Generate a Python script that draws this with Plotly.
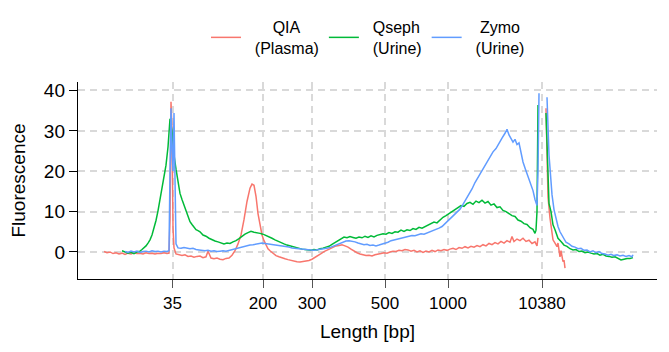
import plotly.graph_objects as go

# x positions are electrophoretic migration positions (arbitrary units), labelled by ladder sizes
tick_pos = [172.5, 263, 312, 385, 448, 542]
tick_labels = ["35", "200", "300", "500", "1000", "10380"]
y_ticks = [0, 10, 20, 30, 40]

qia_x = [104, 107, 110, 113, 116, 119, 122, 125, 128, 131, 134, 137, 140, 143, 146, 149, 152, 155, 158, 161,
         164, 167, 169, 170, 171, 172, 173, 174, 176, 179, 182, 185, 188, 191, 194, 197, 200, 203, 206, 208,
         211, 214, 217, 220, 223, 226, 229, 232, 235, 238, 241, 244, 247, 250, 252, 254, 256, 258, 260, 262,
         264, 266, 268, 270, 273, 276, 279, 282, 285, 288, 291, 294, 297, 300, 303, 306, 309, 312, 315, 318,
         321, 324, 327, 330, 333, 336, 339, 342, 345, 348, 351, 354, 357, 360, 363, 366, 369, 372, 375, 378,
         381, 384, 387, 390, 393, 396, 399, 402, 405, 408, 411, 414, 417, 420, 423, 426, 429, 432, 435, 438,
         441, 444, 447, 450, 453, 456, 459, 462, 465, 468, 471, 474, 477, 480, 483, 486, 489, 492, 495, 498,
         501, 504, 507, 510, 512, 514, 517, 520, 523, 526, 529, 532, 535, 537, 538, 542,
         546, 547, 548, 550, 552, 553, 555, 557, 558, 560, 561, 563, 564, 565]
qia_y = [0.1, -0.2, 0.0, -0.4, -0.2, -0.5, -0.3, -0.6, -0.3, -0.5, -0.2, -0.4, -0.3, -0.5, -0.2, -0.4, -0.3, -0.5, -0.3, -0.4,
         -0.2, -0.4, -0.3, 8.0, 37.2, 30.0, 6.0, 1.0, -0.5, -0.7, -0.9, -0.7, -1.1, -1.0, -1.3, -1.1, -1.0, -1.4, -1.2, 0.2,
         -1.5, -1.7, -1.5, -1.8, -1.9, -1.6, -1.5, -0.8, 0.3, 2.0, 4.2, 8.0, 12.5, 15.8, 16.8, 16.5, 13.8, 9.5, 6.5, 4.2,
         2.8, 1.6, 0.8, 0.3, -0.4, -0.9, -1.2, -1.5, -1.7, -1.9, -2.1, -2.3, -2.4, -2.5, -2.4, -2.3, -2.1, -1.8, -1.4, -1.0,
         -0.4, 0.1, 0.5, 0.9, 1.2, 1.5, 1.6, 1.8, 1.5, 1.2, 0.7, 0.2, -0.2, -0.5, -0.7, -0.9, -0.8, -1.0, -0.7, -0.6,
         -0.4, -0.2, -0.3, 0.0, 0.2, 0.1, 0.4, 0.3, 0.6, 0.5, 0.2, 0.4, 0.0, 0.3, -0.1, 0.2, 0.0, 0.4, 0.1, 0.5,
         0.3, 0.6, 0.4, 0.7, 0.9, 0.6, 1.1, 0.9, 1.3, 1.0, 1.4, 1.2, 1.6, 1.3, 1.8, 1.5, 2.1, 1.8, 2.3, 2.0,
         2.6, 2.2, 2.8, 2.4, 3.8, 2.6, 3.2, 2.8, 3.4, 2.6, 2.9, 2.1, 2.5, 1.5, 3.5, None,
         35.6, 25.0, 13.6, 8.4, 5.4, 3.0, 2.2, 1.3, 2.2, -1.2, 0.3, -2.4, -2.0, -4.0]

qseph_x = [122, 125, 128, 131, 134, 137, 140, 142, 144, 146, 148, 150, 152, 154, 156, 158, 160, 162, 164, 166,
           168, 169, 170, 172, 174, 176, 178, 180, 182, 184, 186, 188, 190, 192, 194, 196, 198, 200, 203, 206,
           209, 212, 215, 218, 221, 224, 227, 230, 233, 236, 239, 242, 245, 248, 251, 254, 257, 260, 263, 266,
           269, 272, 275, 278, 281, 284, 287, 290, 293, 296, 299, 302, 305, 308, 311, 314, 317, 320, 323, 326,
           329, 332, 335, 338, 341, 344, 347, 350, 353, 356, 359, 362, 365, 368, 371, 374, 377, 380, 383, 386,
           389, 392, 395, 398, 401, 404, 407, 410, 413, 416, 419, 422, 425, 428, 431, 434, 437, 440, 443, 446,
           449, 452, 455, 458, 461, 464, 467, 470, 473, 476, 479, 482, 485, 488, 491, 494, 497, 500, 503, 506,
           509, 512, 515, 518, 521, 524, 527, 530, 533, 535, 536, 537, 538, 542,
           546, 547, 548, 549, 551, 553, 555, 558, 561, 564, 567, 570, 573, 576, 579, 582, 585, 588, 591, 594,
           597, 600, 603, 606, 609, 612, 615, 618, 621, 624, 627, 630, 633]
qseph_y = [0.3, 0.0, -0.3, -0.1, -0.4, 0.0, 0.2, 0.6, 1.0, 1.5, 2.2, 3.0, 4.2, 5.8, 7.8, 10.2, 12.8, 15.5, 18.5, 21.5,
           26.0, 31.0, 33.0, 30.0, 24.0, 20.5, 17.0, 14.5, 13.0, 11.5, 10.0, 8.8, 7.5, 6.8, 6.2, 5.5, 5.3, 5.0, 4.2, 3.9,
           3.4, 3.0, 2.7, 2.5, 2.3, 2.0, 2.2, 2.1, 2.5, 2.8, 3.3, 3.9, 4.4, 4.8, 5.1, 4.9, 4.8, 4.6, 4.4, 4.1,
           3.8, 3.4, 3.0, 2.6, 2.3, 2.0, 1.7, 1.5, 1.2, 1.0, 0.8, 0.7, 0.6, 0.5, 0.4, 0.6, 0.5, 0.8, 0.9, 1.2,
           1.4, 1.9, 2.4, 2.9, 3.4, 3.7, 3.5, 3.8, 3.6, 3.4, 3.7, 3.5, 3.9, 3.6, 4.0, 3.7, 4.1, 4.3, 4.5, 4.4,
           4.8, 4.6, 5.0, 4.9, 5.4, 5.1, 5.5, 5.3, 5.8, 5.6, 6.1, 5.9, 6.3, 6.5, 6.9, 7.4, 7.2, 8.0, 8.6, 9.0,
           9.5, 9.9, 10.6, 10.9, 11.5, 11.3, 12.0, 12.3, 11.8, 12.6, 12.2, 12.8, 12.1, 12.5, 11.6, 11.9, 11.0, 11.2, 10.3, 10.0,
           9.5, 9.0, 8.8, 7.9, 7.6, 7.0, 6.8, 6.0, 5.6, 4.6, 5.4, 10.0, 36.4, None,
           34.4, 25.0, 16.6, 12.0, 10.0, 6.7, 5.5, 3.4, 2.6, 1.7, 1.4, 0.8, 0.5, 0.6, 0.1, 0.2, -0.2, 0.0, -0.3, -0.5,
           -0.4, -0.8, -0.6, -1.0, -1.1, -1.3, -1.2, -1.6, -2.0, -1.8, -1.6, -1.6, -1.4]

zymo_x = [125, 128, 131, 134, 137, 140, 143, 146, 149, 152, 155, 158, 161, 164, 167, 169, 170, 171, 172, 173,
          174, 175, 176, 178, 181, 184, 187, 190, 193, 196, 199, 202, 205, 208, 211, 214, 217, 220, 223, 226,
          229, 232, 235, 238, 241, 244, 247, 250, 253, 256, 259, 262, 265, 268, 271, 274, 277, 280, 283, 286,
          289, 292, 295, 298, 301, 304, 307, 310, 313, 316, 319, 322, 325, 328, 331, 334, 337, 340, 343, 346,
          349, 352, 355, 358, 361, 364, 367, 370, 373, 376, 379, 382, 385, 388, 391, 394, 397, 400, 403, 406,
          409, 412, 415, 418, 421, 424, 427, 430, 433, 436, 439, 442, 445, 448, 451, 454, 457, 460, 463, 466,
          469, 472, 475, 478, 481, 484, 487, 490, 493, 496, 499, 502, 505, 507, 509, 511, 513, 515, 517, 519,
          521, 523, 525, 527, 529, 531, 533, 535, 537, 538, 539, 542,
          547, 548, 549, 550, 552, 554, 556, 558, 560, 563, 566, 569, 572, 575, 578, 581, 584, 587, 590, 593,
          596, 599, 602, 605, 608, 611, 614, 617, 620, 623, 626, 629, 632, 633]
zymo_y = [0.1, -0.1, 0.2, 0.0, 0.2, -0.1, 0.1, 0.2, 0.0, 0.3, 0.1, 0.2, 0.0, 0.2, 0.1, 0.3, 20.0, 35.6, 25.0, 20.0,
          34.4, 15.0, 2.0, 1.0, 0.9, 1.1, 1.0, 0.8, 0.9, 0.6, 0.5, 0.4, 0.3, 0.4, 0.2, 0.3, 0.1, 0.2, 0.3, 0.2,
          0.4, 0.6, 0.7, 0.9, 1.1, 1.3, 1.5, 1.7, 1.8, 1.9, 2.0, 2.2, 2.1, 2.0, 1.9, 1.7, 1.6, 1.5, 1.4, 1.3,
          1.2, 1.0, 0.9, 0.8, 0.7, 0.6, 0.5, 0.5, 0.4, 0.5, 0.6, 0.7, 0.9, 1.0, 1.2, 1.5, 1.8, 2.2, 2.5, 2.7,
          2.8, 2.7, 2.5, 2.2, 2.0, 1.8, 1.9, 1.6, 1.7, 1.5, 1.7, 1.9, 2.2, 2.4, 2.8, 3.0, 3.1, 3.4, 3.6, 3.8,
          3.9, 4.1, 4.0, 4.3, 4.5, 4.4, 4.7, 4.9, 5.1, 5.5, 5.9, 6.3, 7.0, 7.6, 8.3, 9.1, 9.8, 10.6, 11.8, 13.0,
          14.5, 15.6, 17.2, 18.5, 19.8, 21.0, 22.2, 23.4, 24.8, 25.6, 27.0, 28.2, 29.4, 30.4, 29.0, 28.0, 27.2, 27.9, 26.6, 27.0,
          24.5, 22.3, 20.8, 19.5, 18.3, 16.5, 15.2, 13.0, 11.5, 20.0, 39.3, None,
          38.3, 30.0, 24.0, 20.8, 14.2, 10.5, 8.0, 6.3, 5.0, 3.8, 2.4, 2.0, 1.4, 1.2, 0.8, 0.9, 0.4, 0.5, 0.0, 0.3,
          -0.2, 0.1, -0.4, -0.5, -0.8, -0.6, -0.9, -0.7, -1.0, -0.8, -1.1, -0.9, -1.2, -0.7]

series = [
    ("\u00a0\u00a0\u00a0\u00a0\u00a0\u00a0QIA<br>\u00a0\u00a0(Plasma)", qia_x, qia_y, "#F8766D"),
    ("\u00a0\u00a0Qseph<br>\u00a0\u00a0(Urine)", qseph_x, qseph_y, "#00BA38"),
    ("\u00a0\u00a0\u00a0Zymo<br>\u00a0\u00a0(Urine)", zymo_x, zymo_y, "#619CFF"),
]

fig = go.Figure()
for name, xs, ys, col in series:
    fig.add_trace(go.Scatter(x=xs, y=ys, mode="lines", name=name,
                             line=dict(color=col, width=1.5), connectgaps=False))

font_family = "Liberation Sans, Arial, sans-serif"
fig.update_layout(
    width=661, height=344,
    margin=dict(l=70, r=12, t=74, b=73),
    plot_bgcolor="white", paper_bgcolor="white",
    font=dict(family=font_family, color="black"),
    showlegend=True,
    legend=dict(orientation="h", xref="container", yref="container",
                x=0.2995, xanchor="left", y=0.994, yanchor="top",
                font=dict(size=16, color="black"), bgcolor="rgba(0,0,0,0)",
                traceorder="normal"),
    xaxis=dict(range=[78, 657], tickmode="array", tickvals=tick_pos, ticktext=tick_labels,
               showline=True, linecolor="black", linewidth=1.4, mirror=False,
               ticks="outside", ticklen=8, tickwidth=1.3, tickcolor="#555555",
               tickfont=dict(size=17), showgrid=True, gridcolor="#d9d9d9", gridwidth=1.5,
               griddash="7px,5px", zeroline=False, automargin=False,
               title=dict(text="Length [bp]", font=dict(size=19), standoff=13)),
    yaxis=dict(range=[-6.7, 42.1], tickmode="array", tickvals=y_ticks,
               showline=True, linecolor="black", linewidth=1.4,
               ticks="outside", ticklen=8, tickwidth=1.3, tickcolor="black",
               tickfont=dict(size=19), showgrid=True, gridcolor="#d9d9d9", gridwidth=1.5,
               griddash="7px,5px", zeroline=False, automargin=False,
               title=dict(text="Fluorescence", font=dict(size=19), standoff=14)),
)

fig.write_html("out.html")
